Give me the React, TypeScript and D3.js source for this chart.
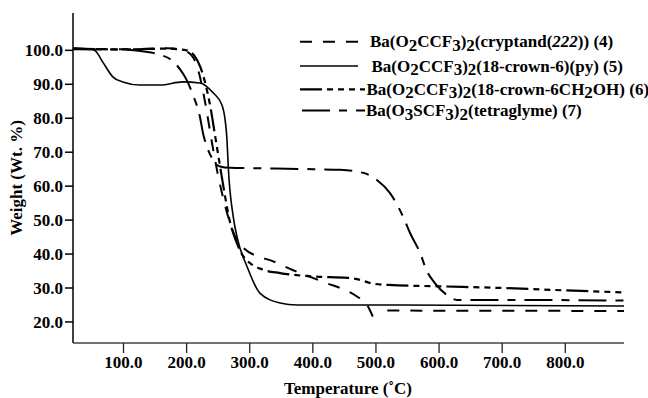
import React from "react";
import * as d3 from "d3";

const xTicks = [100, 200, 300, 400, 500, 600, 700, 800];
const yTicks = [20, 30, 40, 50, 60, 70, 80, 90, 100];

// (4) Ba(O2CCF3)2(cryptand(222)) — NaN marks the gap in the trace
const temp4 = [20, 100, 170, 195, 210, 220, 230, 240, 250, 260, 270, 280, 290, 316, 332, 368, 400, 422, 450, 470, 485, 495, 505, 518, 600, 700, 893];
const weight4 = [100.5, 100.3, 100.6, 100, 98, 93, 84, 73, 63, 55, 48.5, 44, 41.8, 39.1, 38.2, 35.3, 33, 31.4, 29.5, 27.5, 25.3, 21.6, NaN, 23.4, 23.3, 23.3, 23.2];

// (5) Ba(O2CCF3)2(18-crown-6)(py)
const temp5 = [20, 47, 55, 68, 83, 99, 126, 158, 194, 221, 242, 256, 261, 264, 266, 274, 281, 296, 316, 348, 375, 538, 893];
const weight5 = [100.7, 100.4, 99.9, 96.3, 92.2, 90.7, 89.8, 89.8, 90.7, 90.4, 87.5, 83.9, 79.5, 73.6, 65.7, 50.9, 44.2, 36.2, 28.5, 25.6, 25.0, 25.0, 24.7];

// (6) Ba(O2CCF3)2(18-crown-6CH2OH)
const temp6 = [20, 100, 170, 200, 212, 222, 230, 238, 245, 252, 260, 268, 278, 290, 321, 348, 400, 455, 475, 495, 520, 600, 700, 800, 893];
const weight6 = [100.5, 100.3, 100.5, 100.0, 98.5, 95, 90, 83, 75, 67, 58, 50, 44, 39.3, 35.4, 34.4, 33.4, 33.0, 32.4, 31.3, 30.9, 30.5, 30.0, 29.3, 28.7];

// (7) Ba(O3SCF3)2(tetraglyme)
const temp7 = [20, 100, 130, 158, 179, 190, 200, 211, 221, 226, 232, 242, 253, 269, 300, 400, 443, 480, 501, 522, 543, 554, 570, 580, 593, 612, 628, 700, 893];
const weight7 = [100.3, 100.2, 99.7, 98.7, 96.7, 94.3, 91.3, 86.4, 80.5, 75.6, 71.7, 67.7, 65.8, 65.4, 65.3, 65.0, 64.8, 63.9, 61.9, 58.0, 51.0, 46.2, 40.3, 35.3, 31.5, 28.0, 26.5, 26.5, 26.3];

// legend labels: _x = subscript char, /.../ = italic
const legendLabels = [
  "Ba(O_2CCF_3)_2(cryptand(/222/)) (4)",
  "Ba(O_2CCF_3)_2(18-crown-6)(py) (5)",
  "Ba(O_2CCF_3)_2(18-crown-6CH_2OH) (6)",
  "Ba(O_3SCF_3)_2(tetraglyme) (7)",
];

const W = 648, H = 398;
const x = d3.scaleLinear().domain([20, 893]).range([73, 624]);
const y = d3.scaleLinear().domain([13.8, 111]).range([343, 13]);
const FONT = "'Liberation Serif', 'Times New Roman', serif";
const FS = 17;

type Style = { dash: string; width: number };
const styles: Style[] = [
  { dash: "12,11", width: 2 },
  { dash: "", width: 1.6 },
  { dash: "22,5,6,5,6,5,6,5", width: 2.2 },
  { dash: "28,9,8,9", width: 2 },
];

const series = [
  { t: temp4, w: weight4 },
  { t: temp5, w: weight5 },
  { t: temp6, w: weight6 },
  { t: temp7, w: weight7 },
];

function Formula({ text }: { text: string }) {
  const parts: { s: string; sub?: boolean; it?: boolean }[] = [];
  let buf = "";
  let italic = false;
  for (let i = 0; i < text.length; i++) {
    const c = text[i];
    if (c === "_") {
      if (buf) parts.push({ s: buf, it: italic });
      buf = "";
      parts.push({ s: text[i + 1], sub: true });
      i++;
    } else if (c === "/") {
      if (buf) parts.push({ s: buf, it: italic });
      buf = "";
      italic = !italic;
    } else buf += c;
  }
  if (buf) parts.push({ s: buf, it: italic });
  const out: React.ReactNode[] = [];
  let shifted = false;
  parts.forEach((p, i) => {
    let dy = 0;
    if (p.sub && !shifted) { dy = 3.5; shifted = true; }
    else if (!p.sub && shifted) { dy = -3.5; shifted = false; }
    out.push(
      <tspan key={i} dy={dy || undefined} fontStyle={p.it ? "italic" : undefined}>{p.s}</tspan>
    );
  });
  return <>{out}</>;
}

export default function App() {
  const line = d3
    .line<[number, number]>()
    .defined((d) => !isNaN(d[1]))
    .x((d) => x(d[0]))
    .y((d) => y(d[1]))
    .curve(d3.curveMonotoneX);

  const legendY = [41.7, 66, 89.3, 110.5];
  const legendX0 = [300, 300, 300, 302];
  const legendX1 = [358, 358, 365, 365];
  const textX = [370, 371.5, 366.5, 366];
  const fmt = d3.format(".1f");

  return (
    <svg width={W} height={H} style={{ position: "absolute", left: 0, top: 0, background: "#fff" }} fontFamily={FONT} fontWeight="bold">
      <rect width={W} height={H} fill="#fff" />
      {/* axes */}
      <line x1={x.range()[0]} x2={x.range()[0]} y1={y.range()[1]} y2={y.range()[0]} stroke="#000" strokeWidth={1.5} />
      <line x1={x.range()[0]} x2={x.range()[1]} y1={y.range()[0]} y2={y.range()[0]} stroke="#444" strokeWidth={1.5} />
      {yTicks.map((v) => (
        <g key={v}>
          <line x1={65} x2={73} y1={y(v)} y2={y(v)} stroke="#000" strokeWidth={1.5} />
          <text x={63} y={y(v)} dy="0.35em" textAnchor="end" fontSize={FS}>{fmt(v)}</text>
        </g>
      ))}
      {xTicks.map((v) => (
        <g key={v}>
          <line x1={x(v)} x2={x(v)} y1={343} y2={353} stroke="#222" strokeWidth={1.3} />
          <text x={x(v)} y={368} textAnchor="middle" fontSize={FS}>{fmt(v)}</text>
        </g>
      ))}
      <text transform="translate(22,178) rotate(-90)" textAnchor="middle" fontSize={FS}>Weight (Wt. %)</text>
      <text x={348} y={394} textAnchor="middle" fontSize={FS}>Temperature (˚C)</text>

      {/* curves */}
      {series.map((s, i) => (
        <path
          key={i}
          d={line(s.t.map((t, j) => [t, s.w[j]] as [number, number])) || ""}
          fill="none"
          stroke="#000"
          strokeWidth={styles[i].width}
          strokeDasharray={styles[i].dash || undefined}
        />
      ))}

      {/* legend */}
      {legendLabels.map((lab, i) => (
        <g key={i}>
          <line x1={legendX0[i]} x2={legendX1[i]} y1={legendY[i]} y2={legendY[i]} stroke="#000" strokeWidth={styles[i].width} strokeDasharray={styles[i].dash || undefined} />
          <text x={textX[i]} y={legendY[i] + 5.5} fontSize={FS}>
            <Formula text={lab} />
          </text>
        </g>
      ))}
    </svg>
  );
}
